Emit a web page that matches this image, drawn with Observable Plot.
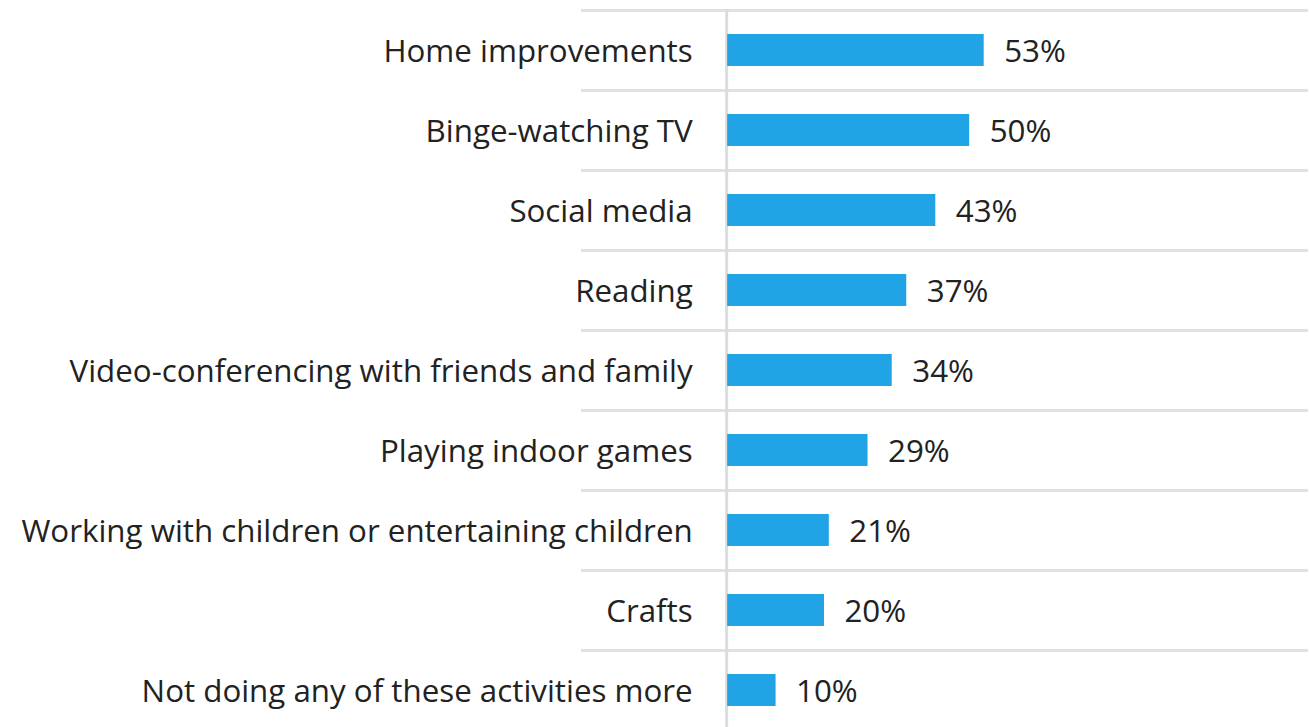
<!DOCTYPE html>
<html>
<head>
<meta charset="utf-8">
<script src="https://cdn.jsdelivr.net/npm/d3@7"></script>
<script src="https://cdn.jsdelivr.net/npm/@observablehq/plot@0.6"></script>
<style>
  html, body { margin: 0; padding: 0; background: #fff; }
  #chart svg { display: block; }
</style>
</head>
<body>
<div id="chart"></div>
<script>
const categories = [
  "Home improvements",
  "Binge-watching TV",
  "Social media",
  "Reading",
  "Video-conferencing with friends and family",
  "Playing indoor games",
  "Working with children or entertaining children",
  "Crafts",
  "Not doing any of these activities more"
];
const values = [53, 50, 43, 37, 34, 29, 21, 20, 10];
const valueLabels = ["53%", "50%", "43%", "37%", "34%", "29%", "21%", "20%", "10%"];

const data = categories.map((c, i) => ({category: c, value: values[i], label: valueLabels[i]}));

const font = "'Segoe UI', 'Open Sans', sans-serif";
const bandStep = 80.2;

const chart = Plot.plot({
  width: 1309,
  height: 727,
  marginLeft: 581,
  marginRight: 1,
  marginTop: 9,
  marginBottom: 0,
  style: {fontFamily: font, background: "#fff"},
  x: {domain: [-30.2, 120], axis: null},
  y: {domain: categories, range: [9, 9 + bandStep * categories.length], padding: 0, axis: null},
  marks: [
    Plot.ruleY(categories, {y: d => d, dy: -bandStep / 2, x1: -30.2, x2: 120, stroke: "#e1e1e1", strokeWidth: 3}),
    Plot.ruleX([0], {stroke: "#dcdcdc", strokeWidth: 3, dx: -1}),
    Plot.barX(data, {x1: 0, x2: "value", y: "category", fill: "#21a4e6", insetTop: 24, insetBottom: 24}),
    Plot.text(data, {x: 0, y: "category", text: "category", textAnchor: "end", dx: -35, dy: 1, fontSize: 31.3, fill: "#222"}),
    Plot.text(data, {x: "value", y: "category", text: "label", textAnchor: "start", dx: 20, dy: 1, fontSize: 31.3, fill: "#222"})
  ]
});
document.getElementById("chart").appendChild(chart);
</script>
</body>
</html>
